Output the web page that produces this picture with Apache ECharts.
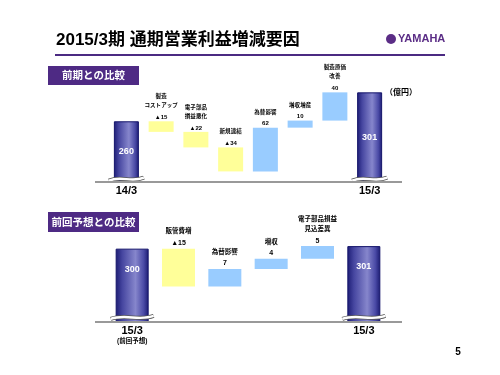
<!DOCTYPE html>
<html><head><meta charset="utf-8">
<script src="https://cdn.jsdelivr.net/npm/echarts@6/dist/echarts.min.js"></script>
<style>html,body{margin:0;padding:0;background:#fff}#c{width:500px;height:375px}</style>
</head><body><div id="c"></div>
<script>
// ---- data ----
const topAxisLabels = ['14/3','','','','','','','15/3'];
const topNames = ['','製造\nコストアップ','電子部品\n損益悪化','新規連結','為替影響','増収増産','製造原価\n改善',''];
const topStart = 260, topEnd = 301;
const topChanges = [null,-15,-22,-34,62,10,40,null];
const topBreakAt = 178;   // axis-break value drawn across the total bars

const botAxisLabels = ['15/3\n(前回予想)','','','','','15/3'];
const botNames = ['','販管費増','為替影響','増収','電子部品損益\n見込差異',''];
const botStart = 300, botEnd = 301;
const botChanges = [null,-15,7,4,5,null];
const botBreakAt = 272.8;

const unitLabel = '（億円）';
const titleText = '2015/3期 通期営業利益増減要因';
const head1 = '前期との比較';
const head2 = '前回予想との比較';

// ---- build ----
function waterfall(start, end, changes){
  const base=[], delta=[], total=[]; let run=start;
  changes.forEach((c,i)=>{
    if(c===null){ base.push('-'); delta.push('-'); total.push(i===0?start:end); }
    else{
      const lo = c<0 ? run+c : run;
      base.push(lo); delta.push({value:Math.abs(c), itemStyle:{color: c<0?'#ffff99':'#99ccff'}});
      total.push('-'); run += c;
    }
  });
  return {base, delta, total};
}
const T = waterfall(topStart, topEnd, topChanges);
const B = waterfall(botStart, botEnd, botChanges);
function breakData(changes, v){ const d=[]; changes.forEach((c,i)=>{ if(c===null) d.push([i,v]); }); return d; }

const FONT = "'Liberation Sans','Noto Sans CJK JP',sans-serif";
const navy = {type:'linear',x:0,y:0,x2:1,y2:0,colorStops:[
  {offset:0,color:'#1c1c74'},{offset:0.2,color:'#4646a0'},{offset:0.6,color:'#8686cc'},
  {offset:0.85,color:'#4a4aa6'},{offset:1,color:'#1a1a70'}]};

function fmtChange(c){ return c<0 ? '▲'+(-c) : String(c); }
function floatLabel(names, changes, ns, nlh, gap, vs, vlh, dist){
  return {show:true, position:'top', distance:dist, fontFamily:FONT,
    formatter:p=>{
      const n = names[p.dataIndex];
      return n.split('\n').map(s=>'{n|'+s+'}').join('\n') + '\n{g|}\n{v|'+fmtChange(changes[p.dataIndex])+'}';
    },
    rich:{
      n:{fontSize:ns,lineHeight:nlh,fontWeight:'bold',color:'#000',fontFamily:FONT},
      g:{fontSize:1,lineHeight:gap},
      v:{fontSize:vs,lineHeight:vlh,fontWeight:'bold',color:'#000',fontFamily:FONT}
    }};
}
function breakSeries(xi, yi, data, bw){
  return {type:'custom', xAxisIndex:xi, yAxisIndex:yi, data:data, z:5, silent:true,
    renderItem:(params, api)=>{
      const p = api.coord([api.value(0), api.value(1)]);
      const x0 = p[0]-bw/2-5, x1 = p[0]+bw/2+5, L = x1-x0, y = p[1];
      const path = 'M'+x0+' '+(y+1.5)+' C'+(x0+L*0.35)+' '+(y-4)+' '+(x0+L*0.65)+' '+(y+4)+' '+x1+' '+(y-1.5);
      return {type:'group', children:[
        {type:'path', shape:{pathData:path}, style:{stroke:'#555', lineWidth:4, fill:null}},
        {type:'path', shape:{pathData:path}, style:{stroke:'#fff', lineWidth:2.4, fill:null}}
      ]};
    }};
}

const chart = echarts.init(document.getElementById('c'), null, {renderer:'canvas'});
chart.setOption({
  animation:false,
  backgroundColor:'#fff',
  grid:[
    {left:109, width:278, top:86, height:96},
    {left:109, width:278, top:236, height:86}
  ],
  xAxis:[
    {gridIndex:0, type:'category', data:topAxisLabels, axisLine:{show:false}, axisTick:{show:false},
     axisLabel:{interval:0, margin:3, fontSize:11, fontWeight:'bold', color:'#000', fontFamily:FONT}},
    {gridIndex:1, type:'category', data:botAxisLabels, axisLine:{show:false}, axisTick:{show:false},
     axisLabel:{interval:0, margin:3, color:'#000', fontFamily:FONT,
       formatter:v=>{ const p=v.split('\n'); return '{a|'+p[0]+'}'+(p[1]?'\n{b|'+p[1]+'}':''); },
       rich:{a:{fontSize:11,fontWeight:'bold',lineHeight:12,fontFamily:FONT},
             b:{fontSize:6.5,fontWeight:'bold',lineHeight:9,fontFamily:FONT}}}}
  ],
  yAxis:[
    {gridIndex:0, type:'value', min:174, max:310, show:false, splitLine:{show:false}},
    {gridIndex:1, type:'value', min:271, max:305, show:false, splitLine:{show:false}}
  ],
  series:[
    {type:'bar', xAxisIndex:0, yAxisIndex:0, stack:'t', data:T.base, barWidth:25, clip:true,
     itemStyle:{color:'transparent'}, silent:true},
    {type:'bar', xAxisIndex:0, yAxisIndex:0, stack:'t', data:T.delta, barWidth:25, clip:true,
     label:floatLabel(topNames, topChanges, 5.5, 9, 3, 6, 8, 0)},
    {type:'bar', xAxisIndex:0, yAxisIndex:0, stack:'t', data:T.total, barWidth:25, clip:true,
     itemStyle:{color:navy, borderColor:'#14146a', borderWidth:1},
     label:{show:true, position:'inside', color:'#fff', fontSize:9, fontWeight:'bold', fontFamily:FONT}},
    breakSeries(0, 0, breakData(topChanges, topBreakAt), 25),

    {type:'bar', xAxisIndex:1, yAxisIndex:1, stack:'b', data:B.base, barWidth:33, clip:true,
     itemStyle:{color:'transparent'}, silent:true},
    {type:'bar', xAxisIndex:1, yAxisIndex:1, stack:'b', data:B.delta, barWidth:33, clip:true,
     label:floatLabel(botNames, botChanges, 6.5, 10, 2, 7, 9, 1)},
    {type:'bar', xAxisIndex:1, yAxisIndex:1, stack:'b', data:B.total, barWidth:33, clip:true,
     itemStyle:{color:navy, borderColor:'#14146a', borderWidth:1},
     label:{show:true, position:'insideTop', distance:16, color:'#fff', fontSize:9, fontWeight:'bold', fontFamily:FONT}},
    breakSeries(1, 1, breakData(botChanges, botBreakAt), 33)
  ],
  graphic:[
    {type:'text', x:56, y:40, style:{text:titleText, fill:'#000', font:"bold 17px 'Liberation Sans','Noto Sans CJK JP'", textVerticalAlign:'middle'}},
    {type:'line', shape:{x1:55,y1:55,x2:445,y2:55}, style:{stroke:'#4b2a82', lineWidth:2}},
    {type:'circle', shape:{cx:391,cy:39,r:5}, style:{fill:'#5b2d86'}},
    {type:'text', x:398, y:39, style:{text:'YAMAHA', fill:'#5b2d86', font:"bold 11px 'Liberation Sans'", textVerticalAlign:'middle'}},
    {type:'rect', shape:{x:48,y:66,width:91,height:19}, style:{fill:'#4e2a84'}},
    {type:'text', x:93.5, y:75.5, style:{text:head1, fill:'#fff', font:"bold 10.5px 'Noto Sans CJK JP'", textAlign:'center', textVerticalAlign:'middle'}},
    {type:'rect', shape:{x:48,y:212,width:91,height:20}, style:{fill:'#4e2a84'}},
    {type:'text', x:93.5, y:222, style:{text:head2, fill:'#fff', font:"bold 10.5px 'Noto Sans CJK JP'", textAlign:'center', textVerticalAlign:'middle'}},
    {type:'line', shape:{x1:95,y1:182,x2:402,y2:182}, style:{stroke:'#999', lineWidth:2}, z:10},
    {type:'line', shape:{x1:95,y1:322,x2:402,y2:322}, style:{stroke:'#999', lineWidth:2}, z:10},
    {type:'text', x:401, y:92, style:{text:unitLabel, fill:'#000', font:"bold 8px 'Noto Sans CJK JP'", textAlign:'center', textVerticalAlign:'middle'}},
    {type:'text', x:458, y:352, style:{text:'5', fill:'#000', font:"bold 10px 'Liberation Sans'", textAlign:'center', textVerticalAlign:'middle'}}
  ]
});
</script></body></html>
